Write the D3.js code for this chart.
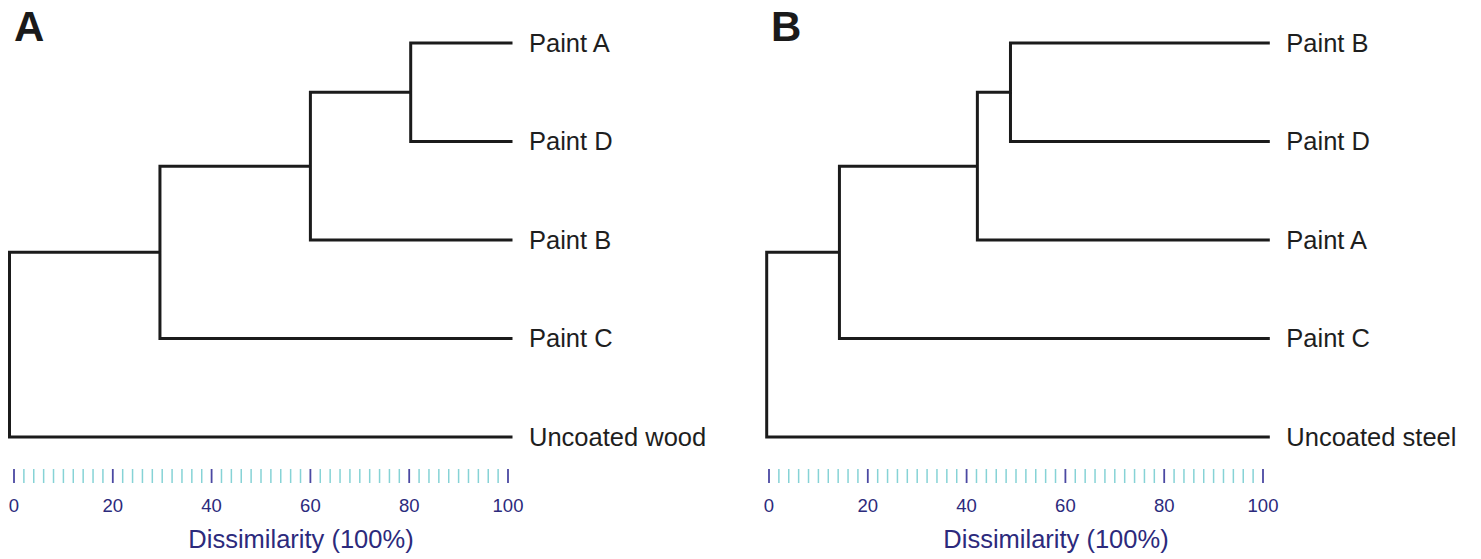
<!DOCTYPE html>
<html>
<head>
<meta charset="utf-8">
<script src="https://cdn.jsdelivr.net/npm/d3@7"></script>
<style>
  html, body { margin: 0; padding: 0; background: #fff; }
  svg { display: block; }
  text { font-family: "Liberation Sans", Arial, sans-serif; }
</style>
</head>
<body>
<svg id="chart" width="1481" height="559"></svg>
<script>
// ---- Data ----
const panelLetters = ["A", "B"];
const leavesA = ["Paint A", "Paint D", "Paint B", "Paint C", "Uncoated wood"];
const leavesB = ["Paint B", "Paint D", "Paint A", "Paint C", "Uncoated steel"];
// merges: [childA, childB, level]; children < 5 are leaves, >= 5 are earlier merges
const mergesA = [[0, 1, 80], [5, 2, 60], [6, 3, 30], [7, 4, 0]];
const mergesB = [[0, 1, 48.6], [5, 2, 42], [6, 3, 14.5], [7, 4, 0]];
const axisTicksMajor = [0, 20, 40, 60, 80, 100];
const axisTicksMinor = d3.range(0, 101, 2);
const axisTitle = "Dissimilarity (100%)";

const panels = [
  { letter: panelLetters[0], leaves: leavesA, merges: mergesA, treeRange: [9.5, 511], axisRange: [14, 508], letterX: 14 },
  { letter: panelLetters[1], leaves: leavesB, merges: mergesB, treeRange: [766.7, 1268.3], axisRange: [769, 1263], letterX: 771 }
];

const svg = d3.select("#chart");
const lineColor = "#1b1b1b";
const majorColor = "#4a48a2";
const minorColor = "#86d3d6";
const navy = "#2c2a7c";

panels.forEach(p => {
  const g = svg.append("g");
  const x = d3.scaleLinear().domain([0, 100]).range(p.treeRange);
  const y = d3.scalePoint().domain(d3.range(p.leaves.length)).range([43, 437]);
  const ax = d3.scaleLinear().domain([0, 100]).range(p.axisRange);

  // nodes
  const nodes = p.leaves.map((name, i) => ({ name, level: 100, y: y(i) }));
  p.merges.forEach(([a, b, level]) => {
    nodes.push({ level, a, b, y: (nodes[a].y + nodes[b].y) / 2 });
  });

  const segs = [];
  nodes.forEach(n => {
    if (n.a === undefined) return;
    const ca = nodes[n.a], cb = nodes[n.b];
    segs.push([x(n.level), ca.y, x(n.level), cb.y]);
    segs.push([x(n.level), ca.y, x(ca.level), ca.y]);
    segs.push([x(n.level), cb.y, x(cb.level), cb.y]);
  });

  const path = d3.path();
  segs.forEach(s => { path.moveTo(s[0], s[1]); path.lineTo(s[2], s[3]); });
  g.append("path")
    .attr("d", path.toString())
    .attr("fill", "none")
    .attr("stroke", lineColor)
    .attr("stroke-width", 3)
    .attr("stroke-linecap", "square");

  // leaf labels
  g.selectAll("text.leaf")
    .data(p.leaves)
    .join("text")
    .attr("class", "leaf")
    .attr("x", x(100) + 18)
    .attr("y", (d, i) => y(i))
    .attr("dy", "0.35em")
    .attr("font-size", 25.5)
    .attr("fill", "#1e1e1e")
    .text(d => d);

  // panel letter
  g.append("text")
    .attr("x", p.letterX)
    .attr("y", 41)
    .attr("font-size", 42)
    .attr("font-weight", "bold")
    .attr("fill", "#1a1a1a")
    .text(p.letter);

  // axis ticks
  const tickTop = 469, tickBottom = 483;
  g.selectAll("line.minor")
    .data(axisTicksMinor.filter(v => v % 20 !== 0))
    .join("line")
    .attr("class", "minor")
    .attr("x1", d => ax(d)).attr("x2", d => ax(d))
    .attr("y1", tickTop).attr("y2", tickBottom)
    .attr("stroke", minorColor).attr("stroke-width", 1.5);
  g.selectAll("line.major")
    .data(axisTicksMajor)
    .join("line")
    .attr("class", "major")
    .attr("x1", d => ax(d)).attr("x2", d => ax(d))
    .attr("y1", tickTop).attr("y2", tickBottom)
    .attr("stroke", majorColor).attr("stroke-width", 1.8);
  g.selectAll("text.tick")
    .data(axisTicksMajor)
    .join("text")
    .attr("class", "tick")
    .attr("x", d => ax(d))
    .attr("y", 512)
    .attr("text-anchor", "middle")
    .attr("font-size", 18.5)
    .attr("fill", navy)
    .text(d => d);

  g.append("text")
    .attr("x", (p.axisRange[0] + p.axisRange[1]) / 2 + 40)
    .attr("y", 548)
    .attr("text-anchor", "middle")
    .attr("font-size", 25.5)
    .attr("fill", navy)
    .text(axisTitle);
});
</script>
</body>
</html>
